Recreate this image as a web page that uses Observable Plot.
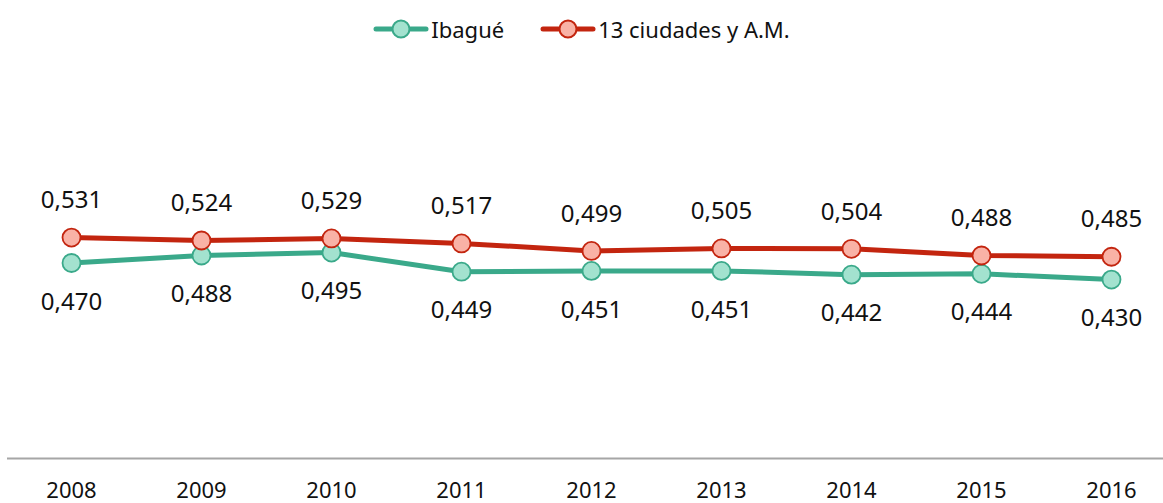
<!DOCTYPE html>
<html>
<head>
<meta charset="utf-8">
<script src="https://cdn.jsdelivr.net/npm/d3@7"></script>
<script src="https://cdn.jsdelivr.net/npm/@observablehq/plot@0.6"></script>
<style>
  body { margin: 0; background: #fff; font-family: "Noto Sans", sans-serif; }
  #legend { height: 58px; display: flex; justify-content: center; align-items: center; font-size: 22px; color: #111; }
  .item { display: flex; align-items: center; margin: 0 18px; }
  .item svg { margin-right: 2px; display: block; }
  #chart svg { display: block; }
</style>
</head>
<body>
<div id="legend"></div>
<div id="chart"></div>
<script>
const years = [2008, 2009, 2010, 2011, 2012, 2013, 2014, 2015, 2016];
const ibague = [0.470, 0.488, 0.495, 0.449, 0.451, 0.451, 0.442, 0.444, 0.430];
const ciudades = [0.531, 0.524, 0.529, 0.517, 0.499, 0.505, 0.504, 0.488, 0.485];
const seriesNames = ["Ibagué", "13 ciudades y A.M."];

const styles = {
  "Ibagué": {line: "#3aa98a", fill: "#a3e2cf", dy: 39},
  "13 ciudades y A.M.": {line: "#c3250f", fill: "#f9b2a6", dy: -37}
};

const loc = d3.formatLocale({decimal: ",", thousands: ".", grouping: [3], currency: ["", ""]});
const fmt = loc.format(".3f");

const data = [];
years.forEach((y, i) => {
  data.push({year: y, value: ibague[i], series: seriesNames[0]});
  data.push({year: y, value: ciudades[i], series: seriesNames[1]});
});

// legend
const legend = document.getElementById("legend");
seriesNames.forEach(name => {
  const s = styles[name];
  const div = document.createElement("div");
  div.className = "item";
  div.innerHTML = `<svg width="56" height="24"><line x1="3" x2="53" y1="12" y2="12" stroke="${s.line}" stroke-width="5" stroke-linecap="round"/><circle cx="28" cy="12" r="8.5" fill="${s.fill}" stroke="${s.line}" stroke-width="2"/></svg><span>${name}</span>`;
  legend.appendChild(div);
});

const marks = [
  Plot.ruleY([0], {stroke: "#a6a6a6", strokeWidth: 2}),
  Plot.text(years, {x: d => d, y: 0, text: d => String(d), dy: 32, fontSize: 22, fill: "#111"})
];
seriesNames.forEach(name => {
  const s = styles[name];
  const sub = data.filter(d => d.series === name);
  marks.push(Plot.line(sub, {x: "year", y: "value", stroke: s.line, strokeWidth: 5}));
  marks.push(Plot.dot(sub, {x: "year", y: "value", r: 9, fill: s.fill, stroke: s.line, strokeWidth: 1.8}));
  marks.push(Plot.text(sub, {x: "year", y: "value", text: d => fmt(d.value), dy: s.dy, fontSize: 24, fill: "#111"}));
});

const chart = Plot.plot({
  width: 1163,
  height: 445,
  marginLeft: 7,
  marginRight: 0,
  marginTop: 0,
  marginBottom: 0,
  style: {fontFamily: "Noto Sans, sans-serif", background: "#fff"},
  x: {type: "point", domain: years, range: [71, 1111], padding: 0, axis: null},
  y: {domain: [0, 0.8], range: [400, 400 - 0.8 * 416], axis: null},
  marks
});
document.getElementById("chart").appendChild(chart);
</script>
</body>
</html>
